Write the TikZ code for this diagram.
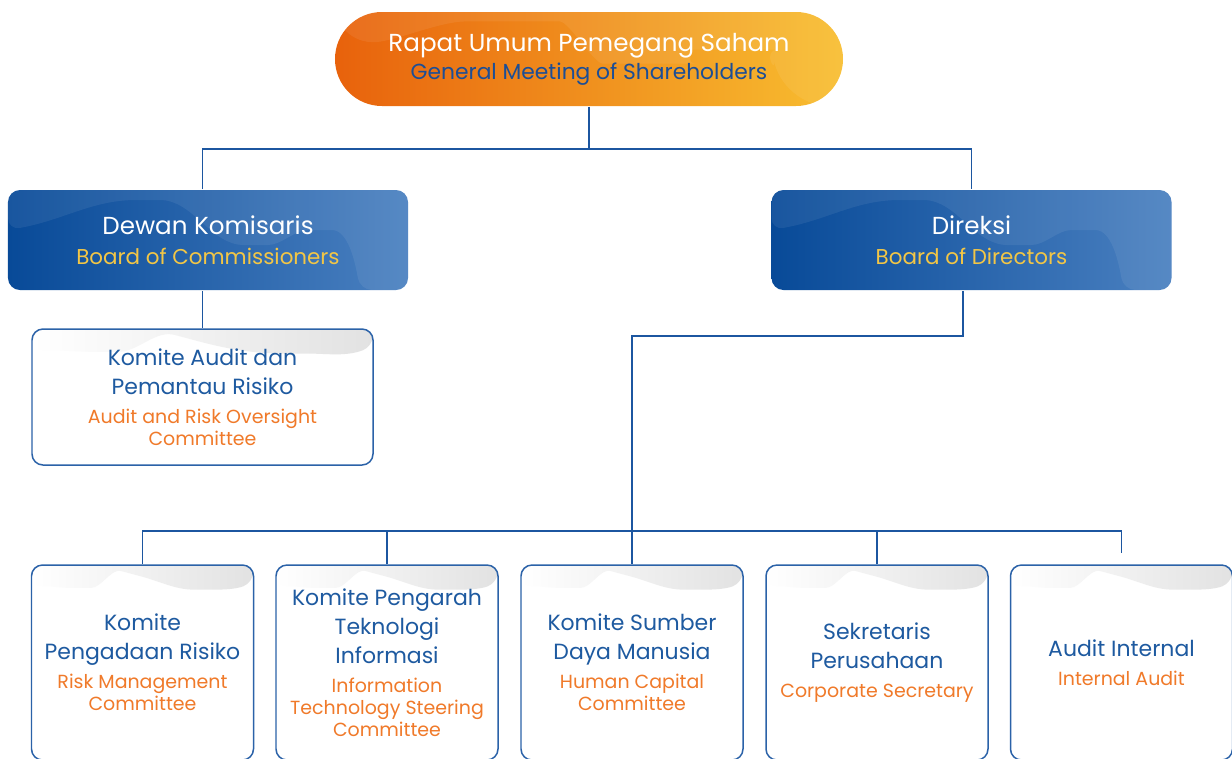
\documentclass[tikz,border=0pt]{standalone}
\usepackage{fontspec}
\setmainfont{Poppins}
\usetikzlibrary{calc}

\definecolor{linkblue}{HTML}{1C56A0}
\definecolor{unitline}{HTML}{2B62A8}
\definecolor{rupsleft}{HTML}{E8620C}
\definecolor{rupsmid}{HTML}{F0901E}
\definecolor{rupsright}{HTML}{F8BE30}
\definecolor{boardleft}{HTML}{084A98}
\definecolor{boardmid}{HTML}{1D5AA3}
\definecolor{boardright}{HTML}{4A80C0}
\definecolor{rupsnavy}{HTML}{1C4E96}
\definecolor{boardyellow}{HTML}{F2C646}
\definecolor{unitnavy}{HTML}{1E5AA0}
\definecolor{unitorange}{HTML}{F07A2A}
\definecolor{wavegray}{HTML}{E2E2E2}

\newcommand\rupsmain{\fontsize{14}{16}\selectfont}
\newcommand\rupssub{\color{rupsnavy}\fontsize{12.4}{16}\selectfont}
\newcommand\boardmain{\fontsize{14}{17}\selectfont}
\newcommand\boardsub{\color{boardyellow}\fontsize{12.2}{17}\selectfont}
\newcommand\unitmain{\fontsize{12.5}{16.5}\selectfont}
\newcommand\unitsub{\color{unitorange}\fontsize{10.8}{12}\selectfont}

\begin{document}
\begin{tikzpicture}[x=0.2mm,y=-0.2mm]
\tikzset{
  orgnode/.style={align=center,inner sep=0pt,line width=0.85pt},
  softwave/.style={path picture={
    \fill[white,opacity=0.07] let \p1=(path picture bounding box.north west),
      \p2=(path picture bounding box.south east), \n1={\x2-\x1}, \n2={\y1-\y2} in
      (\x1,\y1-0.4*\n2) to[out=10,in=180] (\x1+0.35*\n1,\y1-0.1*\n2)
      to[out=0,in=180] (\x1+0.62*\n1,\y1-0.55*\n2) to[out=0,in=180] (\x1+0.78*\n1,\y1-0.4*\n2)
      to[out=0,in=100] (\x1+0.88*\n1,\y2) -- (\x2,\y2) -- (\x2,\y1) -- (\x1,\y1) -- cycle;}},
  graywave/.style={path picture={
    \fill[left color=white,right color=wavegray] let \p1=(path picture bounding box.north west),
      \p2=(path picture bounding box.north east), \n1={\x2-\x1} in
      (\x1,\y1) -- (\x2,\y1) -- (\x2,\y1-10pt) to[out=200,in=0] (\x1+0.78*\n1,\y1-14pt)
      to[out=180,in=-15] (\x1+0.45*\n1,\y1-5pt) to[out=165,in=0] (\x1+0.22*\n1,\y1-13pt)
      to[out=180,in=0] (\x1,\y1-12pt) -- cycle;}},
  pillnode/.style={orgnode,left color=rupsleft,middle color=rupsmid,right color=rupsright,
    rounded corners=9.4mm,minimum width=101.6mm,minimum height=18.8mm,softwave,
    font=\rupsmain,text=white},
  boardnode/.style={orgnode,left color=boardleft,middle color=boardmid,right color=boardright,
    rounded corners=2.4mm,minimum width=80mm,minimum height=20mm,softwave,
    font=\boardmain,text=white},
  unitnode/.style={orgnode,draw=unitline,fill=white,rounded corners=2.2mm,
    minimum width=44.4mm,minimum height=39mm,graywave,font=\unitmain,text=unitnavy},
  orgedge/.style={draw=linkblue,line width=0.85pt}
}
\useasboundingbox (0,0) rectangle (1232,758);
\clip (0,0) rectangle (1232,758);

% top level
\node[pillnode] (n_rups) at (589,59) {Rapat Umum Pemegang Saham\\[0pt]\rupssub General Meeting of Shareholders};
\node[boardnode] (n_dekom) at (208,240) {Dewan Komisaris\\[0pt]\boardsub Board of Commissioners};
\node[boardnode] (n_direksi) at (971.5,240) {Direksi\\[0pt]\boardsub Board of Directors};

% committees and units
\node[unitnode,minimum width=68.2mm,minimum height=27.2mm] (n_kadpr) at (202.5,397)
  {Komite Audit dan\\Pemantau Risiko\\\unitsub Audit and Risk Oversight\\[-4pt]\unitsub Committee};
\node[unitnode] (n_kpr) at (142.5,662.5)
  {Komite\\Pengadaan Risiko\\\unitsub Risk Management\\[-4pt]\unitsub Committee};
\node[unitnode] (n_kptti) at (387,662.5)
  {Komite Pengarah\\Teknologi\\Informasi\\\unitsub Information\\[-4pt]\unitsub Technology Steering\\[-4pt]\unitsub Committee};
\node[unitnode] (n_ksdm) at (632,662.5)
  {Komite Sumber\\Daya Manusia\\\unitsub Human Capital\\[-4pt]\unitsub Committee};
\node[unitnode] (n_sekper) at (877,662.5)
  {Sekretaris\\Perusahaan\\\unitsub Corporate Secretary};
\node[unitnode] (n_ai) at (1121.5,662.5)
  {Audit Internal\\\unitsub Internal Audit};

\coordinate (j_board) at (589,149);
\coordinate (j_dir) at (632,336);
\coordinate (j_bus) at (632,531);
\coordinate (j_ai) at (1121.5,553);

\draw[orgedge] (n_rups) -- (j_board);
\draw[orgedge] (n_kadpr.north |- n_dekom.north) |- (j_board) -| (n_direksi.north);
\draw[orgedge] (n_dekom.south -| n_kadpr.north) -- (n_kadpr.north);
\draw[orgedge] ([xshift=-1.7mm]n_direksi.south) |- (j_dir) -- (n_ksdm.north);
\draw[orgedge] (n_kpr.north) |- (j_bus) -| (j_ai);
\draw[orgedge] (n_kptti.north) -- (n_kptti.north |- j_bus);
\draw[orgedge] (n_sekper.north) -- (n_sekper.north |- j_bus);
\end{tikzpicture}
\end{document}
